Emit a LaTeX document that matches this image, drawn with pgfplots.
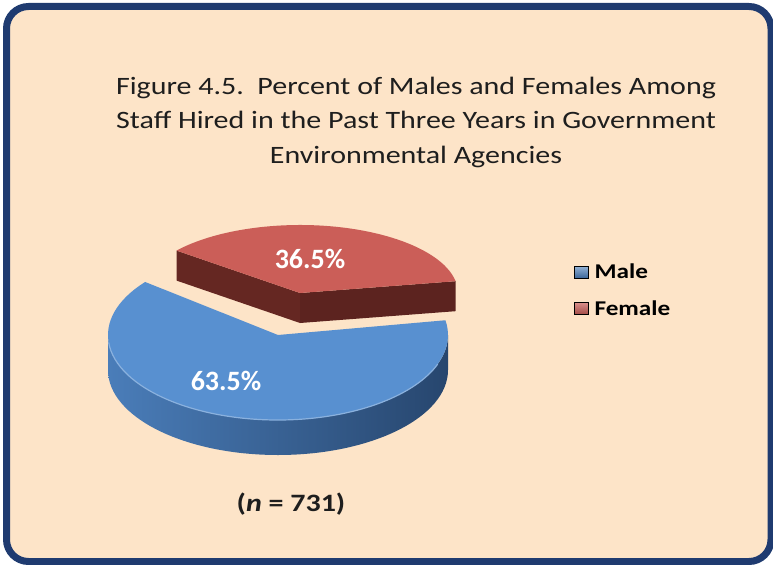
\documentclass[border=0pt]{standalone}
\usepackage{pgfplots}
\pgfplotsset{compat=1.18}
\usepackage{fontspec}
\setmainfont{Carlito}
\newfontfamily\wide[FakeStretch=1.2]{Carlito}
\usetikzlibrary{calc}
\definecolor{bg}{HTML}{FDE4C8}
\definecolor{frame}{HTML}{1F3B70}
\definecolor{maletop}{HTML}{5890D0}
\definecolor{maleside1}{HTML}{4A7DB9}
\definecolor{maleside2}{HTML}{3A6497}
\definecolor{maleside3}{HTML}{27466E}
\definecolor{femtop}{HTML}{CB5E58}
\definecolor{femside}{HTML}{652722}
\definecolor{femside2}{HTML}{5C231F}
\definecolor{titlecol}{HTML}{1E1E1E}
% data (percent)
\def\male{63.5}
\def\female{36.5}
\pgfmathsetmacro\fs{10}
\pgfmathsetmacro\fe{\fs+\female*3.6}
\pgfmathsetmacro\me{\fe+\male*3.6}
\begin{document}
\begin{tikzpicture}
\useasboundingbox (0,0) rectangle (773bp,565bp);
\clip (0,0) rectangle (773bp,565bp);
\begin{axis}[at={(0,0)},anchor=south west,scale only axis,
  width=773bp,height=565bp,xmin=0,xmax=773,ymin=0,ymax=565,
  y dir=reverse,hide axis,clip=false,
  legend style={at={(axis cs:574,264)},anchor=north west,draw=none,fill=none,
    font=\wide\fontsize{21bp}{25bp}\selectfont\bfseries,row sep=20bp,
    inner sep=0pt,nodes={inner xsep=6bp,inner ysep=0bp}},
  legend cell align=left]
\draw[frame,line width=7bp,fill=bg,rounded corners=22bp]
  (axis cs:6.5,6.5) rectangle (axis cs:771,561.5);
% title
\node[align=center,text=titlecol,font=\wide\fontsize{25bp}{34.5bp}\selectfont]
  at (axis cs:416,122)
  {Figure 4.5.\ \ Percent of Males and Females Among\\
   Staff Hired in the Past Three Years in Government\\
   Environmental Agencies};
% female (exploded) slice
\coordinate (F) at (axis cs:300,293);
\fill[femside] (F) -- ++(\fe:158bp and 68bp) -- ++(0,-30bp) -- ($(F)+(0,-30bp)$) -- cycle;
\fill[femside2] (F) -- ++(\fs:158bp and 68bp) -- ++(0,-30bp) -- ($(F)+(0,-30bp)$) -- cycle;
\fill[femtop] (F) -- ++(\fs:158bp and 68bp)
  arc[start angle=\fs,end angle=\fe,x radius=158bp,y radius=68bp] -- cycle;
% male slice
\coordinate (M) at (axis cs:278,335);
\shade[left color=maleside1,middle color=maleside2,right color=maleside3]
  ($(M)+(180:170bp and 85bp)$)
  arc[start angle=180,end angle=360,x radius=170bp,y radius=85bp]
  -- ++(0,-35bp)
  arc[start angle=360,end angle=180,x radius=170bp,y radius=85bp] -- cycle;
\fill[maletop] (M) -- ++(\fe:170bp and 85bp)
  arc[start angle=\fe,end angle=\me,x radius=170bp,y radius=85bp] -- cycle;
\draw[color=maletop!70!white,line width=1.2bp]
  ($(M)+(185:170bp and 85bp)$)
  arc[start angle=185,end angle=340,x radius=170bp,y radius=85bp];
% labels
\node[white,font=\fontsize{28bp}{30bp}\selectfont\bfseries] at (axis cs:310,259) {36.5\%};
\node[white,font=\fontsize{28bp}{30bp}\selectfont\bfseries] at (axis cs:226,381) {63.5\%};
\node[titlecol,font=\wide\fontsize{25bp}{30bp}\selectfont\bfseries] at (axis cs:291,504) {(\textit{n} = 731)};
% legend
\addlegendimage{legend image code/.code={\shade[top color=maleside1!60!white,bottom color=maleside2] (0bp,-6bp) rectangle (14bp,6bp);}}
\addlegendentry{Male}
\addlegendimage{legend image code/.code={\shade[top color=femtop!70!white,bottom color=femtop!80!black] (0bp,-6bp) rectangle (14bp,6bp);}}
\addlegendentry{Female}
\end{axis}
\end{tikzpicture}
\end{document}
